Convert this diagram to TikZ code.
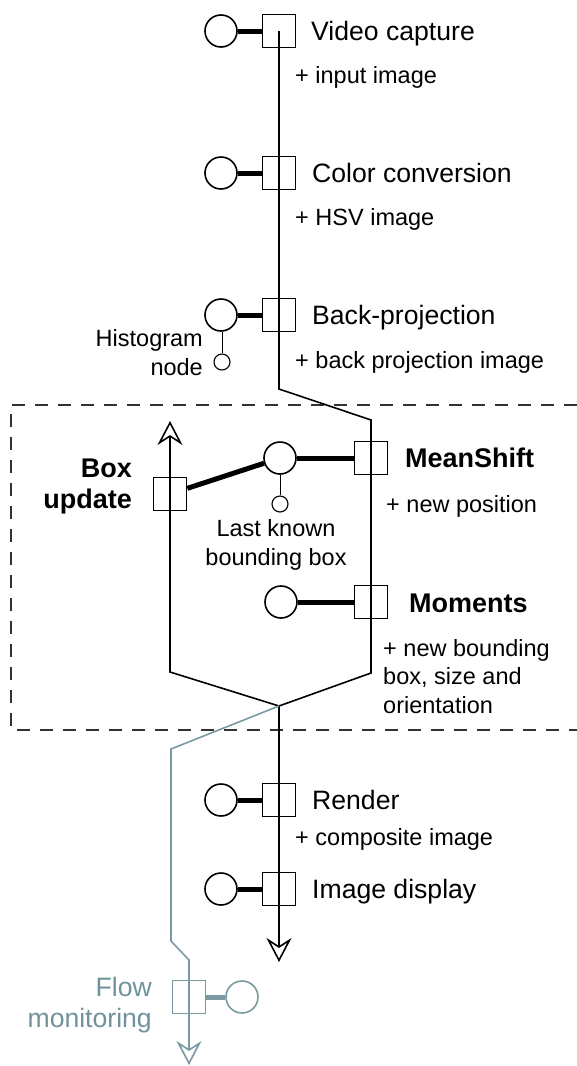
\documentclass[tikz,border=0pt]{standalone}
\usepackage{fontspec}
\setmainfont{Liberation Sans}
\usetikzlibrary{arrows.meta}
\definecolor{mon}{RGB}{122,153,161}
\definecolor{montext}{RGB}{112,146,155}
\definecolor{framegray}{RGB}{50,50,50}

\begin{document}
\begin{tikzpicture}[x=1pt,y=-1pt,
  stage/.style={draw, rectangle, minimum size=33pt, inner sep=0pt, line width=1.6pt},
  portc/.style={draw, circle, minimum size=32pt, inner sep=0pt, line width=1.6pt},
  tinyport/.style={draw, circle, minimum size=16pt, inner sep=0pt, line width=1.1pt},
  bond/.style={line width=5pt},
  tether/.style={line width=1pt},
  flowline/.style={line width=1.6pt},
  flowtip/.style={-{Stealth[open, length=24pt, width=25pt, inset=8pt]}},
  stagelabel/.style={font=\fontsize{26.6}{31}\selectfont, inner sep=0pt, anchor=base west},
  boldlabel/.style={font=\fontsize{27}{31}\selectfont\bfseries, inner sep=0pt},
  note/.style={font=\fontsize{23.5}{28.5}\selectfont, inner sep=0pt, anchor=base west},
  frameline/.style={draw=framegray, line width=1.3pt, dash pattern=on 13pt off 10pt}
]
\useasboundingbox (0,0) rectangle (577,1066);

% tracking group frame (open on the right)
\draw[frameline] (577,405) -- (11,405) -- (11,730) -- (577,730);

% pipeline stages and their ports
\node[stage] (vc) at (279,31) {};
\node[portc] (vcp) at (221,31) {};
\node[stage] (cc) at (279,173) {};
\node[portc] (ccp) at (221,173) {};
\node[stage] (bp) at (279,315) {};
\node[portc] (bpp) at (221,315) {};
\node[tinyport] (hist) at (222,362) {};

\node[stage] (ms) at (371,458) {};
\node[portc] (lkp) at (280,458) {};
\node[tinyport] (lkb) at (280,504) {};
\node[stage] (bu) at (170,494) {};
\node[stage] (mo) at (371,602) {};
\node[portc] (mop) at (281,602) {};

\node[stage] (rd) at (279,800) {};
\node[portc] (rdp) at (221,800) {};
\node[stage] (id) at (279,889) {};
\node[portc] (idp) at (221,889) {};

\node[stage, draw=mon] (fm) at (189,997) {};
\node[portc, draw=mon] (fmp) at (242,997) {};

% bends of the data flow
\coordinate (turn1) at (279,389);
\coordinate (turn2) at (371,420);
\coordinate (turn3) at (371,673);
\coordinate (split) at (279,706);
\coordinate (lbend) at (170,672);
\coordinate (ltip) at (170,421);
\coordinate (dtip) at (279,962);
\coordinate (g1) at (171,749);
\coordinate (g2) at (171,941);
\coordinate (g3) at (189,960);
\coordinate (gtip) at (189,1065);

% data flow
\draw[flowline, flowtip] (vc.center) -- (cc.center) -- (bp.center) -- (turn1) -- (turn2)
  -- (ms.center) -- (mo.center) -- (turn3) -- (split) -- (rd.center) -- (id.center) -- (dtip);
\draw[flowline, flowtip] (split) -- (lbend) -- (bu.center) -- (ltip);
\draw[flowline, flowtip, draw=mon] (split) -- (g1) -- (g2) -- (g3) -- (fm.center) -- (gtip);

% port bonds
\draw[bond] (vcp) -- (vc);
\draw[bond] (ccp) -- (cc);
\draw[bond] (bpp) -- (bp);
\draw[bond] (lkp) -- (ms);
\draw[bond] (bu) -- (lkp);
\draw[bond] (mop) -- (mo);
\draw[bond] (rdp) -- (rd);
\draw[bond] (idp) -- (id);
\draw[bond, draw=mon] (fm) -- (fmp);
\draw[tether] (hist) -- (hist |- bpp.south);
\draw[tether] (lkp) -- (lkb);

% labels (multi-line nodes sit on the baseline of their last line)
\node[stagelabel] (vcl) at (311,40) {Video capture};
\node[note] (vcn) at (295,83) {+ input image};
\node[stagelabel] (ccl) at (312,182) {Color conversion};
\node[note] (ccn) at (295,225) {+ HSV image};
\node[stagelabel] (bpl) at (312,324) {Back-projection};
\node[note] (bpn) at (295,368) {+ back projection image};
\node[note, anchor=base east, align=right] (histl) at (203,375) {Histogram\\node};

\node[boldlabel, anchor=base west] (msl) at (405,467) {MeanShift};
\node[note] (msn) at (386,512) {+ new position};
\node[note, anchor=base, align=center] (lkl) at (276,565) {Last known\\bounding box};
\node[boldlabel, anchor=base east, align=right] (bul) at (132,508) {Box\\update};
\node[boldlabel, anchor=base west] (mol) at (409,612) {Moments};
\node[note, align=left] (mon) at (383,713) {+ new bounding\\box, size and\\orientation};

\node[stagelabel] (rdl) at (312,809) {Render};
\node[note] (rdn) at (295,845) {+ composite image};
\node[stagelabel] (idl) at (312,898) {Image display};
\node[stagelabel, anchor=base east, align=right, text=montext] (fml) at (152,1027) {Flow\\monitoring};
\end{tikzpicture}
\end{document}
